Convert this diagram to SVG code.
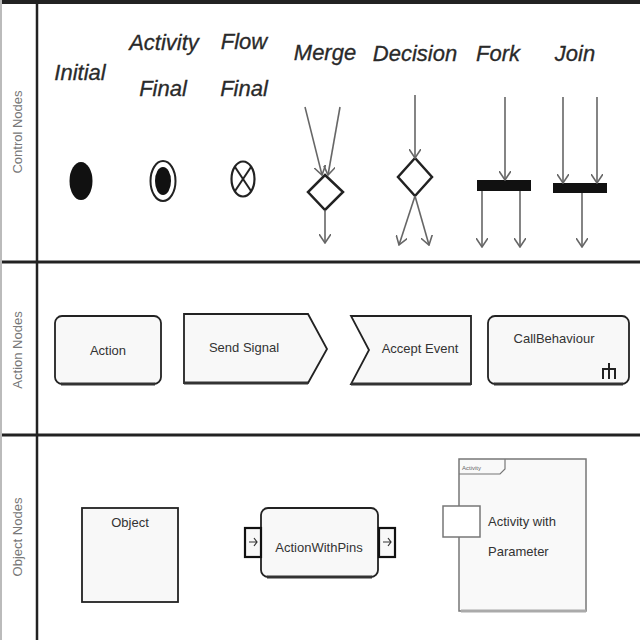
<svg xmlns="http://www.w3.org/2000/svg" width="640" height="640" viewBox="0 0 640 640">
<style>
.title{font-family:"Liberation Sans",Arial,sans-serif;font-style:italic;font-size:22px;fill:#2a2a2a;stroke:#2a2a2a;stroke-width:0.3;text-anchor:middle}
.lbl{font-family:"Liberation Sans",Arial,sans-serif;font-size:13px;fill:#333;text-anchor:middle}
.lbls{font-family:"Liberation Sans",Arial,sans-serif;font-size:13px;fill:#333;text-anchor:start}
.side{font-family:"Liberation Sans",Arial,sans-serif;font-size:13px;fill:#777;text-anchor:middle}
.box{fill:#f8f8f8;stroke:#222;stroke-width:1.8}
.flow{stroke:#666;stroke-width:1.6;fill:none;marker-end:url(#arr)}
.frame{stroke:#222;fill:none}
</style>
<defs>
<marker id="arr" markerWidth="10" markerHeight="12" refX="9" refY="6" orient="auto" markerUnits="userSpaceOnUse">
<path d="M0,0 L9,6 L0,12" fill="none" stroke="#666" stroke-width="1.6"/>
</marker>
</defs>
<rect x="0" y="0" width="640" height="640" fill="#fff"/>
<g id="frame">
<line class="frame" x1="0" y1="2" x2="640" y2="2" stroke-width="4"/>
<line class="frame" x1="0" y1="262" x2="640" y2="262" stroke-width="3"/>
<line class="frame" x1="0" y1="435" x2="640" y2="435" stroke-width="3"/>
<line class="frame" x1="37" y1="0" x2="37" y2="640" stroke-width="2.5"/>
<line x1="1" y1="0" x2="1" y2="640" stroke="#bbb" stroke-width="2"/>
<text class="side" transform="translate(22,132) rotate(-90)">Control Nodes</text>
<text class="side" transform="translate(22,350) rotate(-90)">Action Nodes</text>
<text class="side" transform="translate(22,537) rotate(-90)">Object Nodes</text>
</g>
<g id="titles">
<text class="title" x="80" y="80">Initial</text>
<text class="title" x="164" y="50">Activity</text>
<text class="title" x="163" y="96">Final</text>
<text class="title" x="244" y="49">Flow</text>
<text class="title" x="244" y="96">Final</text>
<text class="title" x="325" y="60">Merge</text>
<text class="title" x="415" y="61">Decision</text>
<text class="title" x="498" y="61">Fork</text>
<text class="title" x="575" y="61">Join</text>
</g>
<g id="initial"><ellipse cx="81" cy="181" rx="11.5" ry="19" fill="#111"/></g>
<g id="activity-final">
<ellipse cx="163" cy="181" rx="12.5" ry="20" fill="#fff" stroke="#222" stroke-width="2"/>
<ellipse cx="163" cy="181" rx="8" ry="14" fill="#111"/>
</g>
<g id="flow-final">
<ellipse cx="243" cy="179" rx="11.5" ry="17.5" fill="#fff" stroke="#222" stroke-width="2.2"/>
<line x1="235" y1="167" x2="251" y2="191" stroke="#222" stroke-width="2"/>
<line x1="251" y1="167" x2="235" y2="191" stroke="#222" stroke-width="2"/>
</g>
<g id="merge"><polygon points="325,175 343,192 325,210 308,192" fill="#fff" stroke="#222" stroke-width="2.5"/></g>
<g id="decision"><polygon points="415,158 432,177 415,196 398,177" fill="#fff" stroke="#222" stroke-width="2.5"/></g>
<g id="fork"><rect x="477" y="180" width="54" height="11" fill="#111"/></g>
<g id="join"><rect x="553" y="183" width="54" height="10" fill="#111"/></g>
<g id="connectors">
<line class="flow" x1="305" y1="107" x2="322" y2="175"/>
<line class="flow" x1="340" y1="107" x2="328" y2="175"/>
<line class="flow" x1="325" y1="210" x2="325" y2="243"/>
<line class="flow" x1="415" y1="95" x2="415" y2="158"/>
<line class="flow" x1="415" y1="196" x2="399" y2="245"/>
<line class="flow" x1="415" y1="196" x2="429" y2="245"/>
<line class="flow" x1="505" y1="97" x2="505" y2="180"/>
<line class="flow" x1="482" y1="191" x2="482" y2="247"/>
<line class="flow" x1="520" y1="191" x2="520" y2="247"/>
<line class="flow" x1="563" y1="97" x2="563" y2="183"/>
<line class="flow" x1="597" y1="97" x2="597" y2="183"/>
<line class="flow" x1="582" y1="193" x2="582" y2="247"/>
</g>
<g id="action">
<rect class="box" x="55" y="316" width="106" height="68" rx="7"/>
<line x1="61" y1="384" x2="155" y2="384" stroke="#333" stroke-width="3"/>
<text class="lbl" x="108" y="355">Action</text>
</g>
<g id="send-signal">
<polygon class="box" points="184,314 308,314 327,349 308,383 184,383"/>
<line x1="184" y1="383" x2="308" y2="383" stroke="#333" stroke-width="3"/>
<text class="lbl" x="244" y="352">Send Signal</text>
</g>
<g id="accept-event">
<polygon class="box" points="351,316 471,316 471,384 351,384 369,350"/>
<line x1="351" y1="384" x2="471" y2="384" stroke="#333" stroke-width="3"/>
<text class="lbl" x="420" y="353">Accept Event</text>
</g>
<g id="call-behaviour">
<rect class="box" x="488" y="316" width="141" height="68" rx="7"/>
<line x1="494" y1="384" x2="623" y2="384" stroke="#333" stroke-width="3"/>
<text class="lbl" x="554" y="343">CallBehaviour</text>
<path d="M603,379 V369 H615 V379 M609,363 V379" fill="none" stroke="#222" stroke-width="2"/>
</g>
<g id="object">
<rect class="box" x="82" y="508" width="96" height="94" stroke-width="2.2"/>
<text class="lbl" x="130" y="527">Object</text>
</g>
<g id="action-with-pins">
<rect class="box" x="261" y="508" width="117" height="69" rx="7"/>
<line x1="267" y1="577" x2="372" y2="577" stroke="#333" stroke-width="3"/>
<rect x="245" y="528" width="16" height="29" fill="#f8f8f8" stroke="#111" stroke-width="2.2"/>
<path d="M249,542 H257 M254,538 L257,542 L254,546" fill="none" stroke="#333" stroke-width="1.2"/>
<rect x="379" y="528" width="16" height="29" fill="#f8f8f8" stroke="#111" stroke-width="2.2"/>
<path d="M383,542 H391 M388,538 L391,542 L388,546" fill="none" stroke="#333" stroke-width="1.2"/>
<text class="lbl" x="319" y="552">ActionWithPins</text>
</g>
<g id="activity-with-parameter">
<rect x="459" y="459" width="127" height="152" fill="#f9f9f9" stroke="#777" stroke-width="1.5"/>
<line x1="461" y1="611" x2="586" y2="611" stroke="#aaa" stroke-width="3"/>
<path d="M459,474 H500 L505,469 V459" fill="none" stroke="#777" stroke-width="1.2"/>
<text x="462" y="470" font-family="Liberation Sans, Arial, sans-serif" font-size="6" fill="#666">Activity</text>
<rect x="443" y="506" width="37" height="31" fill="#fff" stroke="#777" stroke-width="1.5"/>
<text class="lbls" x="488" y="526">Activity with</text>
<text class="lbls" x="488" y="556">Parameter</text>
</g>
</svg>
